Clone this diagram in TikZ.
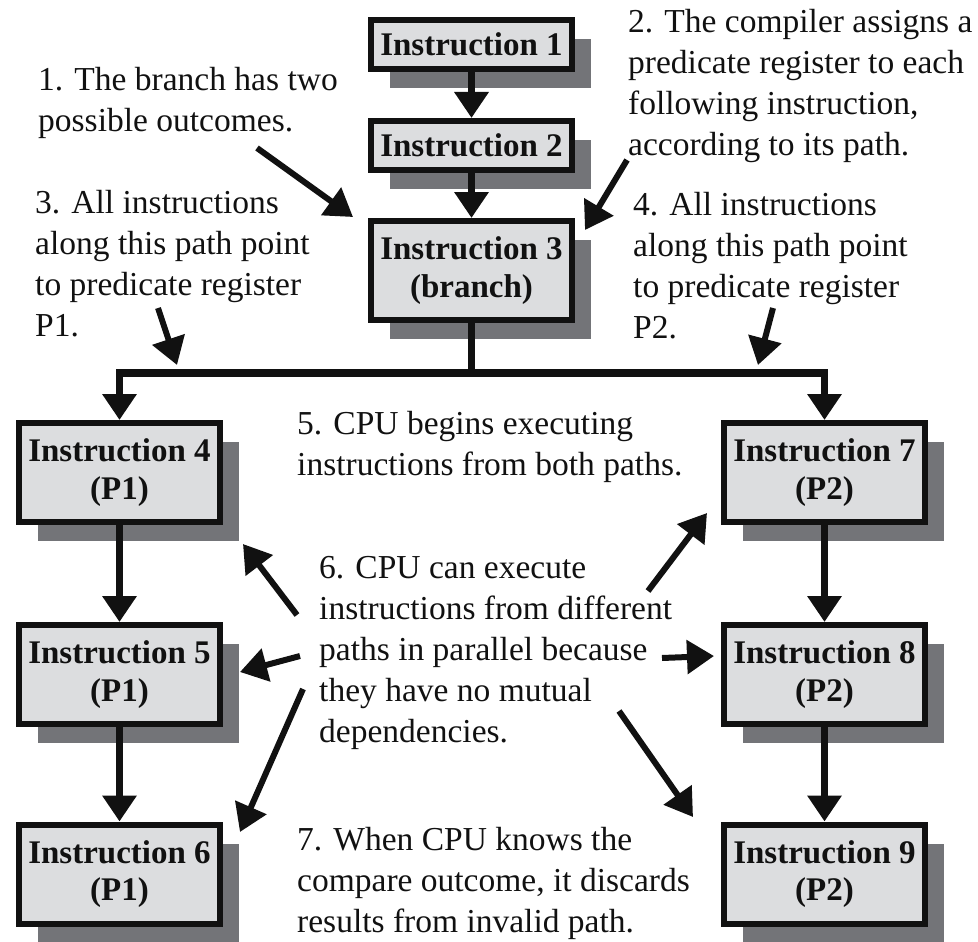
\documentclass[tikz,border=0pt]{standalone}
\usepackage{fontspec}
\setmainfont{Liberation Serif}
\usetikzlibrary{arrows.meta,shadows}
\definecolor{boxfill}{HTML}{DCDDDF}
\definecolor{shadowgray}{HTML}{737478}
\definecolor{ink}{HTML}{111111}
\begin{document}
\begin{tikzpicture}[x=1pt,y=-1pt,
 instr/.style={draw=ink, line width=6pt, fill=boxfill, minimum width=201pt, minimum height=99pt,
   font=\bfseries\fontsize{33}{37.5}\selectfont, align=center, inner sep=2pt, text=ink,
   drop shadow={shadow xshift=19pt, shadow yshift=-19pt, fill=shadowgray, opacity=1}},
 smallinstr/.style={instr, minimum height=49pt},
 note/.style={anchor=north west, inner sep=0pt, align=left, font=\fontsize{33.5}{41}\selectfont, text=ink},
 arr/.style={draw=ink, line width=7.5pt, -{Triangle[width=33pt,length=26pt]}},
 notearr/.style={draw=ink, line width=6pt, -{Triangle[width=33pt,length=27pt]}},
 plain/.style={draw=ink, line width=7.5pt},
 ]
\useasboundingbox (0,0) rectangle (978,942);

% boxes
\node[smallinstr] (i1) at (471.5,44.5) {Instruction 1};
\node[smallinstr] (i2) at (471.5,145.5) {Instruction 2};
\node[instr] (i3) at (471.5,270.5) {Instruction 3\\(branch)};
\node[instr] (i4) at (119.5,472.5) {Instruction 4\\(P1)};
\node[instr] (i5) at (119.5,674.5) {Instruction 5\\(P1)};
\node[instr] (i6) at (119.5,874) {Instruction 6\\(P1)};
\node[instr] (i7) at (824.5,472.5) {Instruction 7\\(P2)};
\node[instr] (i8) at (824.5,674.5) {Instruction 8\\(P2)};
\node[instr] (i9) at (824.5,874) {Instruction 9\\(P2)};

% notes
\node[note] (n1) at (38,67) {1. The branch has two\\possible outcomes.};
\node[note] (n2) at (628,9) {2. The compiler assigns a\\predicate register to each\\following instruction,\\according to its path.};
\node[note] (n3) at (35,190) {3. All instructions\\along this path point\\to predicate register\\P1.};
\node[note] (n4) at (633,192) {4. All instructions\\along this path point\\to predicate register\\P2.};
\node[note] (n5) at (297,411) {5. CPU begins executing\\instructions from both paths.};
\node[note] (n6) at (319,556) {6. CPU can execute\\instructions from different\\paths in parallel because\\they have no mutual\\dependencies.};
\node[note] (n7) at (297,827) {7. When CPU knows the\\compare outcome, it discards\\results from invalid path.};

% flow connectors
\draw[arr] (i1) -- (i2);
\draw[arr] (i2) -- (i3);
\coordinate (bm) at (471.5,373);
\draw[plain] (i3.south) -- (bm);
\draw[arr] (bm) -| (i4.north);
\draw[arr] (bm) -| (i7.north);
\draw[arr] (i4) -- (i5);
\draw[arr] (i5) -- (i6);
\draw[arr] (i7) -- (i8);
\draw[arr] (i8) -- (i9);

% annotation arrows
\coordinate (a1s) at (257,148); \coordinate (a1e) at (353,217);
\coordinate (a2s) at (627,160); \coordinate (a2e) at (585,230);
\coordinate (a3s) at (158,308); \coordinate (a3e) at (177,365);
\coordinate (a4s) at (773,308); \coordinate (a4e) at (758,365);
\coordinate (a6as) at (297,615); \coordinate (a6ae) at (243,544);
\coordinate (a6bs) at (648,591); \coordinate (a6be) at (707,513);
\coordinate (a6cs) at (300,656); \coordinate (a6ce) at (240,672);
\coordinate (a6ds) at (662,658); \coordinate (a6de) at (714,656);
\coordinate (a6es) at (303,689); \coordinate (a6ee) at (240,832);
\coordinate (a6fs) at (619,711); \coordinate (a6fe) at (693,817);
\draw[notearr] (a1s) -- (a1e);
\draw[notearr] (a2s) -- (a2e);
\draw[notearr] (a3s) -- (a3e);
\draw[notearr] (a4s) -- (a4e);
\draw[notearr] (a6as) -- (a6ae);
\draw[notearr] (a6bs) -- (a6be);
\draw[notearr] (a6cs) -- (a6ce);
\draw[notearr] (a6ds) -- (a6de);
\draw[notearr] (a6es) -- (a6ee);
\draw[notearr] (a6fs) -- (a6fe);
\end{tikzpicture}
\end{document}
